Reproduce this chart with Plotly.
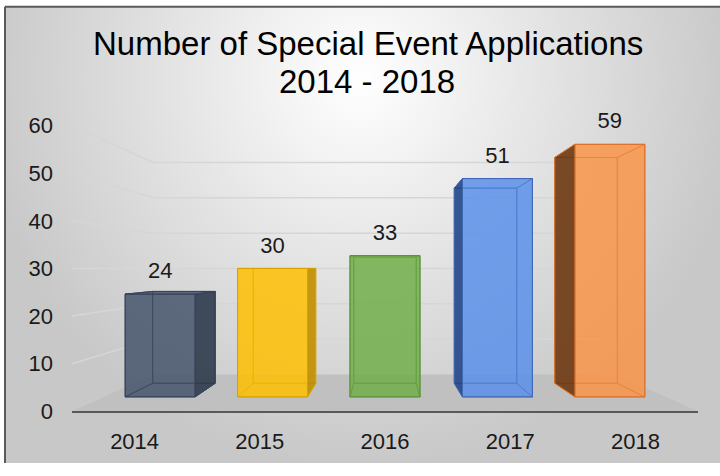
import plotly.graph_objects as go

# ---- data -------------------------------------------------------------
years = ["2014", "2015", "2016", "2017", "2018"]
applications = [24, 30, 33, 51, 59]
value_ticks = [0, 10, 20, 30, 40, 50, 60]

# ---- styling ----------------------------------------------------------
face_colors = ["#44546A", "#FFC000", "#70AD47", "#5A90EA", "#FA9448"]
side_colors = ["#2E3A4A", "#B88A00", "#4F7F31", "#1F3F78", "#5A2E0E"]
edge_colors = ["#36435A", "#D8A300", "#5B9339", "#3F68B5", "#D9702A"]
FONT = "Liberation Sans, Arial, sans-serif"
TEXT_COLOR = "#1a1a1a"

# perspective in (category, value) space: the eye sits at the middle
# category and at value 30; depth 1 is the front plane of the axes
EYE_X, EYE_Y = 2.0, 30.0
FLOOR_FRONT, FLOOR_BACK = 1.0, 0.741
BAR_FRONT, BAR_BACK = 0.898, 0.803
HALF_WIDTH = 0.311
X_MIN, X_MAX = -0.5, 4.5
FACE_ALPHA = 0.6
SIDE_ALPHA = 0.8


def project(x, v, depth):
    return EYE_X + (x - EYE_X) * depth, EYE_Y + (v - EYE_Y) * depth


def rgba(hex_color, alpha):
    h = hex_color.lstrip("#")
    r, g, b = int(h[0:2], 16), int(h[2:4], 16), int(h[4:6], 16)
    return f"rgba({r},{g},{b},{alpha})"


def polygon(points, fill, line_color, line_width=1.0):
    xs, ys = [], []
    for p in points + points[:1]:
        px, py = project(*p)
        xs.append(px)
        ys.append(py)
    return go.Scatter(
        x=xs, y=ys, mode="lines", fill="toself", fillcolor=fill,
        line=dict(color=line_color, width=line_width),
        hoverinfo="skip", showlegend=False, xaxis="x2", yaxis="y2",
    )


fig = go.Figure()

# background panel with a soft radial shading
fig.add_trace(go.Scatter(
    x=[-20, 740, 740, -20, -20], y=[-320, -320, 480, 480, -320],
    mode="lines", fill="toself", line=dict(width=0),
    fillgradient=dict(type="radial",
                      colorscale=[[0, "#ffffff"], [1, "#c8c8c8"]]),
    hoverinfo="skip", showlegend=False, xaxis="x", yaxis="y",
))

# floor
fig.add_trace(polygon(
    [(X_MIN, 0, FLOOR_FRONT), (X_MAX, 0, FLOOR_FRONT),
     (X_MAX, 0, FLOOR_BACK), (X_MIN, 0, FLOOR_BACK)],
    "#c0c0c0", "rgba(0,0,0,0)", 0))

# gridlines on the back wall and the left side wall
gx, gy = [], []
for v in value_ticks[1:]:
    for a, b in [((X_MIN, v, FLOOR_FRONT), (X_MIN, v, FLOOR_BACK)),
                 ((X_MIN, v, FLOOR_BACK), (X_MAX, v, FLOOR_BACK))]:
        for p in (a, b):
            px, py = project(*p)
            gx.append(px)
            gy.append(py)
        gx.append(None)
        gy.append(None)
fig.add_trace(go.Scatter(
    x=gx, y=gy, mode="lines", line=dict(color="#d6d6d6", width=1.5),
    hoverinfo="skip", showlegend=False, xaxis="x2", yaxis="y2"))

# 3-D columns
label_x, label_y = [], []
for i, (val, base, side, edge) in enumerate(
        zip(applications, face_colors, side_colors, edge_colors)):
    xl, xr = i - HALF_WIDTH, i + HALF_WIDTH
    f, b = BAR_FRONT, BAR_BACK
    faces = {
        "back": [(xl, 0, b), (xr, 0, b), (xr, val, b), (xl, val, b)],
        "bottom": [(xl, 0, f), (xr, 0, f), (xr, 0, b), (xl, 0, b)],
        "top": [(xl, val, f), (xr, val, f), (xr, val, b), (xl, val, b)],
        "left": [(xl, 0, f), (xl, val, f), (xl, val, b), (xl, 0, b)],
        "right": [(xr, 0, f), (xr, val, f), (xr, val, b), (xr, 0, b)],
        "front": [(xl, 0, f), (xr, 0, f), (xr, val, f), (xl, val, f)],
    }
    if i < EYE_X:
        seen_side = "right"
    elif i > EYE_X:
        seen_side = "left"
    else:
        seen_side = None
    seen_cap = "top" if val < EYE_Y else None

    order = ["back", "bottom", "top", "left", "right", "front"]
    # faces turned away from the eye first, then the visible ones
    hidden = [n for n in order if n not in (seen_side, seen_cap, "front")]
    visible = [n for n in order if n in (seen_cap, "front")]
    for name in hidden + visible:
        fig.add_trace(polygon(faces[name], rgba(base, FACE_ALPHA), edge))
    if seen_side:
        fig.add_trace(polygon(faces[seen_side], rgba(side, SIDE_ALPHA), edge))

    lx, ly = project(i, val, BAR_FRONT)
    label_x.append(lx)
    label_y.append(ly + 4.5)

# value labels
fig.add_trace(go.Scatter(
    x=label_x, y=label_y, mode="text", text=[str(v) for v in applications],
    textposition="middle center",
    textfont=dict(family=FONT, size=22, color=TEXT_COLOR),
    hoverinfo="skip", showlegend=False, xaxis="x2", yaxis="y2",
    cliponaxis=False))

# ---- layout ------------------------------------------------------------
W, H = 720, 476
fig.update_layout(
    width=W, height=H, margin=dict(l=0, r=0, t=0, b=0),
    paper_bgcolor="white", plot_bgcolor="rgba(0,0,0,0)",
    font=dict(family=FONT, color=TEXT_COLOR),
    xaxis=dict(domain=[0, 1], range=[0, W], visible=False, fixedrange=True),
    yaxis=dict(domain=[0, 1], range=[H, 0], visible=False, fixedrange=True),
    xaxis2=dict(
        domain=[72 / W, 698 / W], range=[X_MIN, X_MAX], anchor="y2",
        tickvals=list(range(len(years))), ticktext=years,
        showline=True, linecolor="#595959", linewidth=2,
        showgrid=False, zeroline=False, ticks="",
        ticklabelstandoff=9,
        tickfont=dict(family=FONT, size=22, color=TEXT_COLOR)),
    yaxis2=dict(
        domain=[53 / H, (H - 99.6) / H], range=[0, 66], anchor="x2",
        tickvals=value_ticks, showgrid=False, zeroline=False,
        showline=False, ticks="", ticklabelstandoff=18,
        tickfont=dict(family=FONT, size=22, color=TEXT_COLOR)),
    showlegend=False,
    shapes=[
        dict(type="rect", xref="paper", yref="paper", x0=0, x1=5 / W,
             y0=0, y1=1, fillcolor="white", line_width=0, layer="above"),
        dict(type="rect", xref="paper", yref="paper", x0=0, x1=1,
             y0=1 - 7 / H, y1=1, fillcolor="white", line_width=0,
             layer="above"),
        dict(type="line", xref="paper", yref="paper", x0=5 / W, x1=5 / W,
             y0=0, y1=1 - 7 / H, line=dict(color="#5a5a5a", width=2),
             layer="above"),
        dict(type="line", xref="paper", yref="paper", x0=5 / W, x1=1,
             y0=1 - 7 / H, y1=1 - 7 / H, line=dict(color="#5a5a5a", width=2),
             layer="above"),
    ],
    annotations=[
        dict(text="Number of Special Event Applications", x=368 / W,
             y=1 - 45 / H, xref="paper", yref="paper", showarrow=False,
             xanchor="center", yanchor="middle",
             font=dict(family=FONT, size=33, color="#000000")),
        dict(text="2014 - 2018", x=367 / W, y=1 - 84 / H, xref="paper",
             yref="paper", showarrow=False, xanchor="center",
             yanchor="middle",
             font=dict(family=FONT, size=33, color="#000000")),
    ],
)

fig.write_html("out.html")
